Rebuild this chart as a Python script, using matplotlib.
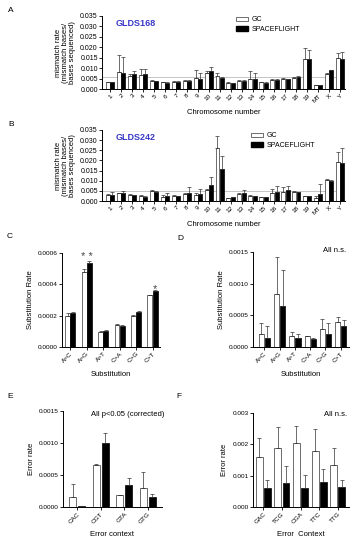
import numpy as np
import matplotlib
matplotlib.use("Agg")
import matplotlib.pyplot as plt
from matplotlib.patches import Patch

plt.rcParams['font.family'] = ['Liberation Sans', 'DejaVu Sans']

# ---- data ----
chroms = ["1", "2", "3", "4", "5", "6", "7", "8", "9", "10", "11", "12", "13", "14",
          "15", "16", "17", "18", "19", "MT", "X", "Y"]

a_gc = [0.0033, 0.0080, 0.0063, 0.0068, 0.0040, 0.0033, 0.0035, 0.0040, 0.0055, 0.0075, 0.0063,
        0.0030, 0.0040, 0.0050, 0.0033, 0.0045, 0.0050, 0.0053, 0.0143, 0.0018, 0.0070, 0.0147]
a_gc_err = [0.0002, 0.0085, 0.0007, 0.0027, 0.0002, 0.0002, 0.0002, 0.0003, 0.0035, 0.0010, 0.0012,
            0.0005, 0.0003, 0.0035, 0.0002, 0.0005, 0.0005, 0.0003, 0.0055, 0.0002, 0.0005, 0.0028]
a_sf = [0.0033, 0.0078, 0.0070, 0.0073, 0.0037, 0.0030, 0.0035, 0.0040, 0.0048, 0.0088, 0.0055,
        0.0028, 0.0040, 0.0047, 0.0030, 0.0043, 0.0047, 0.0058, 0.0143, 0.0017, 0.0090, 0.0142]
a_sf_err = [0.0002, 0.0077, 0.0018, 0.0022, 0.0002, 0.0002, 0.0002, 0.0003, 0.0027, 0.0017, 0.0003,
            0.0002, 0.0003, 0.0028, 0.0002, 0.0003, 0.0003, 0.0003, 0.0044, 0.0002, 0.0003, 0.0033]

b_gc = [0.0030, 0.0037, 0.0030, 0.0025, 0.0048, 0.0020, 0.0025, 0.0033, 0.0030, 0.0052, 0.0260,
        0.0013, 0.0035, 0.0025, 0.0020, 0.0040, 0.0045, 0.0043, 0.0023, 0.0013, 0.0103, 0.0190]
b_gc_err = [0.0005, 0.0003, 0.0003, 0.0003, 0.0007, 0.0008, 0.0003, 0.0007, 0.0010, 0.0008, 0.0060,
            0.0003, 0.0005, 0.0003, 0.0002, 0.0018, 0.0023, 0.0007, 0.0003, 0.0010, 0.0003, 0.0052]
b_sf = [0.0030, 0.0040, 0.0028, 0.0022, 0.0045, 0.0027, 0.0025, 0.0040, 0.0033, 0.0078, 0.0157,
        0.0018, 0.0037, 0.0025, 0.0018, 0.0043, 0.0053, 0.0042, 0.0023, 0.0033, 0.0100, 0.0185]
b_sf_err = [0.0015, 0.0008, 0.0003, 0.0002, 0.0003, 0.0013, 0.0002, 0.0028, 0.0027, 0.0040, 0.0063,
            0.0003, 0.0018, 0.0002, 0.0002, 0.0029, 0.0022, 0.0003, 0.0002, 0.0052, 0.0003, 0.0075]

subs = ["A>C", "A>G", "A>T", "C>A", "C>G", "C>T"]
c_gc = [0.000200, 0.000480, 0.000098, 0.000140, 0.000198, 0.000330]
c_gc_err = [0.000020, 0.000020, 0.000004, 0.000008, 0.000007, 0.000005]
c_sf = [0.000220, 0.000533, 0.000103, 0.000135, 0.000225, 0.000358]
c_sf_err = [0.000003, 0.000015, 0.000003, 0.000005, 0.000003, 0.000005]

d_gc = [0.00020, 0.00083, 0.00017, 0.00017, 0.00028, 0.00039]
d_gc_err = [0.00018, 0.00059, 0.00007, 0.00001, 0.00017, 0.00008]
d_sf = [0.00015, 0.00065, 0.00014, 0.00012, 0.00020, 0.00033]
d_sf_err = [0.00018, 0.00057, 0.00007, 0.00003, 0.00018, 0.00010]

ctx_e = ["CAC", "CGT", "GTA", "GTG"]
e_gc = [0.00015, 0.00066, 0.00018, 0.00030]
e_gc_err = [0.00021, 0.00001, 0.00001, 0.00025]
e_sf = [0.00001, 0.00100, 0.00035, 0.00015]
e_sf_err = [0.0, 0.00015, 0.00011, 0.00005]

ctx_f = ["GAC", "TCG", "CGA", "TTC", "TTG"]
f_gc = [0.00160, 0.00187, 0.00205, 0.00180, 0.00135]
f_gc_err = [0.00060, 0.00068, 0.00055, 0.00070, 0.00053]
f_sf = [0.00060, 0.00078, 0.00060, 0.00080, 0.00065]
f_sf_err = [0.00025, 0.00052, 0.00043, 0.00040, 0.00020]

W, H = 356, 550
fig = plt.figure(figsize=(W / 100, H / 100), dpi=100)


def box(l, t, r, b):
    return [l / W, 1 - b / H, (r - l) / W, (b - t) / H]


def bars(ax, labels, gc, gc_err, sf, sf_err, width, off, tfs=4.6):
    x = np.arange(len(labels))
    ax.bar(x - off, gc, width, color="white", edgecolor="#333333", linewidth=0.5, zorder=2)
    ax.bar(x + off, sf, width, color="black", edgecolor="black", linewidth=0.5, zorder=2)
    ax.errorbar(x - off, gc, yerr=[np.zeros(len(gc)), gc_err], fmt="none", ecolor="#333333",
                elinewidth=0.5, capsize=1.2, capthick=0.5, zorder=3)
    ax.errorbar(x + off, sf, yerr=[np.zeros(len(sf)), sf_err], fmt="none", ecolor="#333333",
                elinewidth=0.5, capsize=1.2, capthick=0.5, zorder=3)
    ax.set_xticks(x)
    ax.set_xticklabels(labels, rotation=45, ha="right", rotation_mode="anchor", fontsize=tfs)
    ax.spines["top"].set_visible(False)
    ax.spines["right"].set_visible(False)
    for s in ("left", "bottom"):
        ax.spines[s].set_linewidth(0.7)
    ax.tick_params(axis="both", direction="out", length=2, width=0.6, labelsize=tfs, pad=1)
    return x


leg_handles = [Patch(facecolor="white", edgecolor="#333333", linewidth=0.5, label="GC"),
               Patch(facecolor="black", edgecolor="black", label="SPACEFLIGHT")]

# ---- A ----
axA = fig.add_axes(box(102, 16, 345, 89))
bars(axA, chroms, a_gc, a_gc_err, a_sf, a_sf_err, 0.36, 0.2, tfs=4.6)
axA.axhline(0.0058, color="#bbbbbb", lw=0.6, zorder=1)
axA.set_xlim(-0.75, 21.45)
axA.set_ylim(0, 0.035)
axA.set_yticks(np.arange(0, 0.0351, 0.005))
axA.set_yticklabels(["%.3f" % v for v in np.arange(0, 0.0351, 0.005)], fontsize=5)
axA.set_xlabel("Chromosome number", fontsize=5.5, labelpad=4)
axA.set_ylabel("mismatch rate\n(mismatch bases/\nbases sequenced)", fontsize=5.5, labelpad=3,
               linespacing=1.0)
axA.text(0.055, 0.96, "GLDS168", transform=axA.transAxes, color="#3a3ac8", fontsize=6.5,
         fontweight="bold", va="top")
axA.legend(handles=leg_handles, loc="upper left", bbox_to_anchor=(233 / W, 1 - 13 / H),
           bbox_transform=fig.transFigure, frameon=False, fontsize=5, handlelength=1.6,
           handleheight=0.7, labelspacing=0.35, borderpad=0, handletextpad=0.6)

# ---- B ----
axB = fig.add_axes(box(102, 130, 345, 201))
bars(axB, chroms, b_gc, b_gc_err, b_sf, b_sf_err, 0.36, 0.2, tfs=4.6)
axB.axhline(0.005, color="#bbbbbb", lw=0.6, zorder=1)
axB.set_xlim(-0.75, 21.45)
axB.set_ylim(0, 0.035)
axB.set_yticks(np.arange(0, 0.0351, 0.005))
axB.set_yticklabels(["%.3f" % v for v in np.arange(0, 0.0351, 0.005)], fontsize=5)
axB.set_xlabel("Chromosome number", fontsize=5.5, labelpad=4)
axB.set_ylabel("mismatch rate\n(mismatch bases/\nbases sequenced)", fontsize=5.5, labelpad=3,
               linespacing=1.0)
axB.text(0.055, 0.96, "GLDS242", transform=axB.transAxes, color="#3a3ac8", fontsize=6.5,
         fontweight="bold", va="top")
axB.legend(handles=leg_handles, loc="upper left", bbox_to_anchor=(248 / W, 1 - 129 / H),
           bbox_transform=fig.transFigure, frameon=False, fontsize=5, handlelength=1.6,
           handleheight=0.7, labelspacing=0.35, borderpad=0, handletextpad=0.6)

# ---- C ----
axC = fig.add_axes(box(62, 253, 160, 347))
x = bars(axC, subs, c_gc, c_gc_err, c_sf, c_sf_err, 0.3, 0.16)
axC.set_xlim(-0.5, 5.45)
axC.set_ylim(0, 0.0006)
axC.set_yticks([0, 0.0002, 0.0004, 0.0006])
axC.set_yticklabels(["0.0000", "0.0002", "0.0004", "0.0006"])
axC.set_xlabel("Substitution", fontsize=5.5, labelpad=5)
axC.set_ylabel("Substitution Rate", fontsize=5.5, labelpad=3)
axC.text(1, 0.000545, "* *", ha="center", va="bottom", fontsize=8, color="#444444",
         clip_on=False)
axC.text(5 + 0.16, 0.00034, "*", ha="center", va="bottom", fontsize=8, color="#444444")

# ---- D ----
axD = fig.add_axes(box(253, 252, 349, 347))
bars(axD, subs, d_gc, d_gc_err, d_sf, d_sf_err, 0.34, 0.2)
axD.set_xlim(-0.75, 5.55)
axD.set_ylim(0, 0.0015)
axD.set_yticks([0, 0.0005, 0.001, 0.0015])
axD.set_yticklabels(["0.0000", "0.0005", "0.0010", "0.0015"])
axD.set_xlabel("Substitution", fontsize=5.5, labelpad=5)
axD.set_ylabel("Substitution Rate", fontsize=5.5, labelpad=3)
fig.text(346 / W, 1 - 250 / H, "All n.s.", ha="right", va="center", fontsize=5.5)

# ---- E ----
axE = fig.add_axes(box(63, 411, 162, 507))
bars(axE, ctx_e, e_gc, e_gc_err, e_sf, e_sf_err, 0.3, 0.19)
axE.set_xlim(-0.6, 3.6)
axE.set_ylim(0, 0.0015)
axE.set_yticks([0, 0.0005, 0.001, 0.0015])
axE.set_yticklabels(["0.0000", "0.0005", "0.0010", "0.0015"])
axE.set_xlabel("Error context", fontsize=5.5, labelpad=5)
axE.set_ylabel("Error rate", fontsize=5.5, labelpad=3)
fig.text(128 / W, 1 - 415 / H, "All p<0.05 (corrected)", ha="center", va="center", fontsize=5.5)

# ---- F ----
axF = fig.add_axes(box(253, 413, 349, 507))
bars(axF, ctx_f, f_gc, f_gc_err, f_sf, f_sf_err, 0.37, 0.22)
axF.set_xlim(-0.55, 4.6)
axF.set_ylim(0, 0.003)
axF.set_yticks([0, 0.001, 0.002, 0.003])
axF.set_yticklabels(["0.000", "0.001", "0.002", "0.003"])
axF.set_xlabel("Error  Context", fontsize=5.5, labelpad=5)
axF.set_ylabel("Error rate", fontsize=5.5, labelpad=3)
fig.text(347 / W, 1 - 415 / H, "All n.s.", ha="right", va="center", fontsize=5.5)

# panel letters
for lab, px, py in [("A", 8, 10), ("B", 8, 125), ("C", 7, 237), ("D", 177, 238),
                    ("E", 7, 396), ("F", 176, 397)]:
    fig.text(px / W, 1 - py / H, lab, fontsize=6, ha="left", va="center")

fig.savefig("out.png", dpi=100)
